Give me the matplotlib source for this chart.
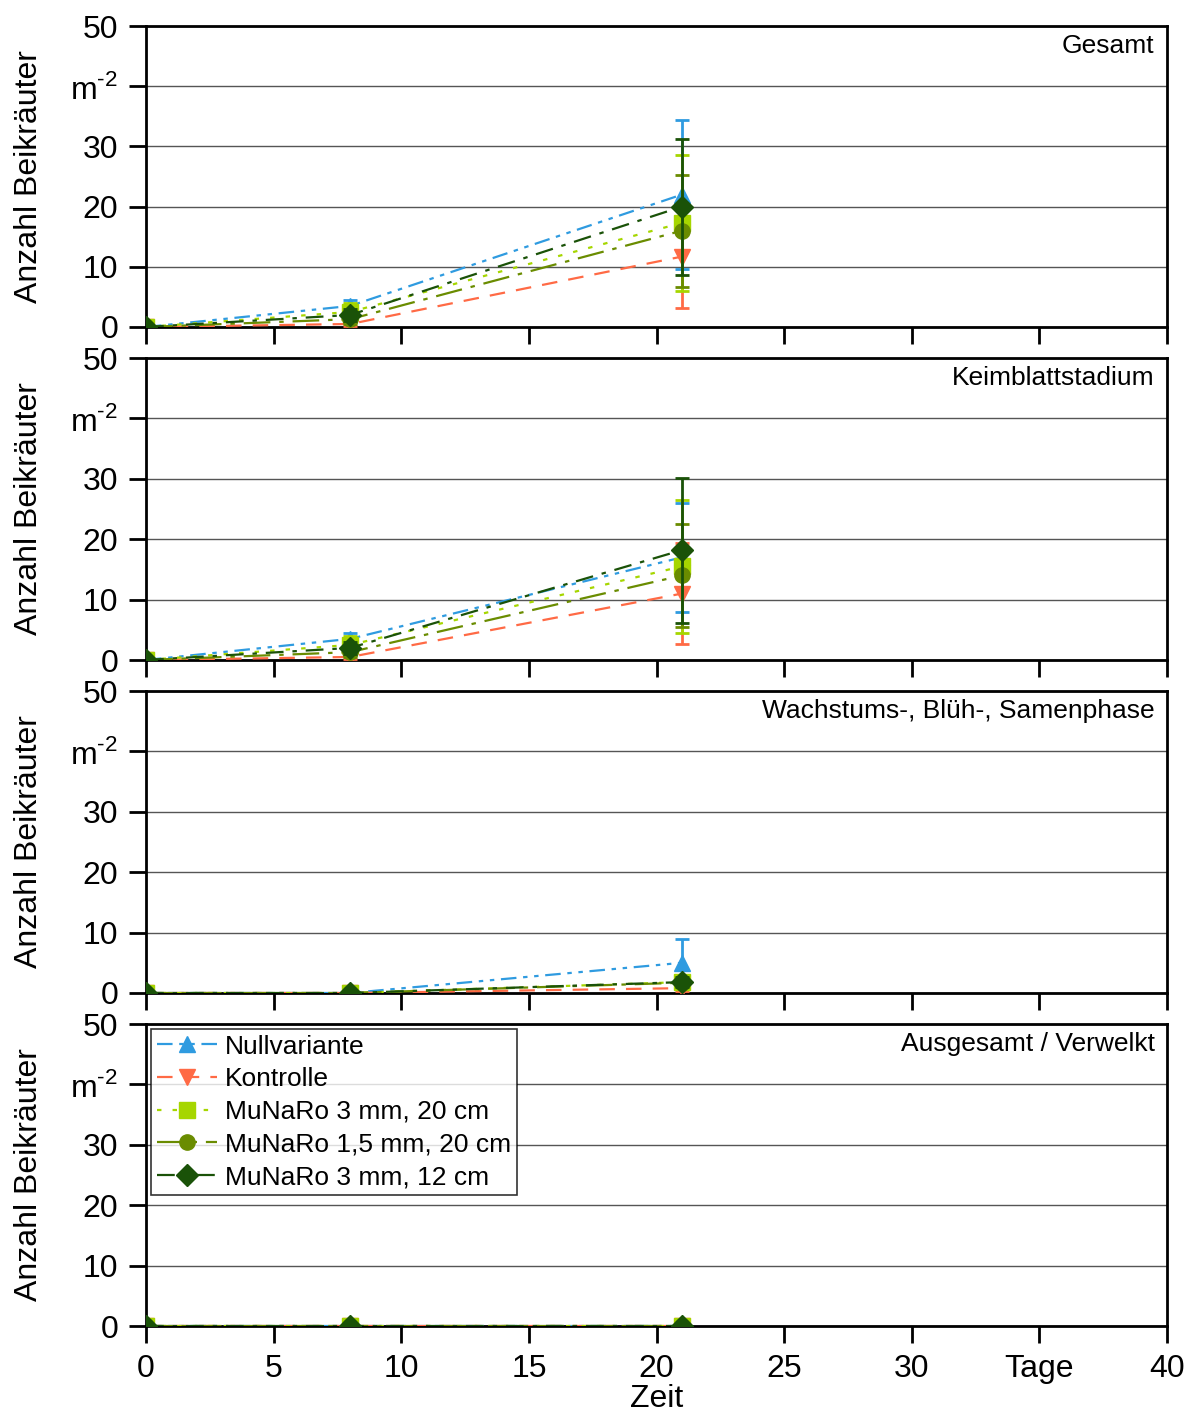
"""Weed counts per m² over time for the MuNaRo variants, four growth-stage panels."""

import matplotlib
matplotlib.use("Agg")
import matplotlib.pyplot as plt
from matplotlib.lines import Line2D
import numpy as np

plt.rcParams["font.family"] = ["Liberation Sans", "DejaVu Sans"]
plt.rcParams["mathtext.fontset"] = "custom"
plt.rcParams["mathtext.rm"] = "Liberation Sans"

DAYS = [0, 8, 21]
PANELS = ["Gesamt", "Keimblattstadium", "Wachstums-, Blüh-, Samenphase", "Ausgesamt / Verwelkt"]
SERIES = ["Nullvariante", "Kontrolle", "MuNaRo 3 mm, 20 cm", "MuNaRo 1,5 mm, 20 cm", "MuNaRo 3 mm, 12 cm"]

# mean values per panel, one row per series
MEANS = [
    [[0, 3.5, 22.0], [0, 0.5, 11.7], [0, 2.5, 17.3], [0, 1.3, 16.0], [0, 2.0, 20.0]],
    [[0, 3.5, 17.0], [0, 0.5, 11.0], [0, 2.5, 15.5], [0, 1.3, 14.0], [0, 2.0, 18.2]],
    [[0, 0.0, 5.0], [0, 0.0, 0.8], [0, 0.0, 1.8], [0, 0.0, 1.7], [0, 0.0, 1.8]],
    [[0, 0, 0], [0, 0, 0], [0, 0, 0], [0, 0, 0], [0, 0, 0]],
]
ERRORS = [
    [[0, 1.0, 12.4], [0, 0.4, 8.6], [0, 1.5, 11.3], [0, 0.8, 9.3], [0, 1.0, 11.3]],
    [[0, 1.0, 9.0], [0, 0.4, 8.4], [0, 1.5, 11.0], [0, 0.8, 8.5], [0, 1.0, 12.0]],
    [[0, 0.0, 4.0], [0, 0.0, 0.5], [0, 0.0, 0.8], [0, 0.0, 0.6], [0, 0.0, 0.8]],
    [[0, 0, 0], [0, 0, 0], [0, 0, 0], [0, 0, 0], [0, 0, 0]],
]
YTICKLABELS = ["0", "10", "20", "30", "m$^{\u2010\\mathregular{2}}$", "50"]
XTICKLABELS = ["0", "5", "10", "15", "20", "25", "30", "Tage", "40"]

COLORS = ["#2f9be0", "#ff6a45", "#a6d600", "#6a8c00", "#1a5208"]
MARKERS = ["^", "v", "s", "o", "D"]
LINESTYLES = [
    (0, (7, 3, 2, 3, 2, 3)),
    (0, (7, 5)),
    (0, (2, 5)),
    (0, (12, 4, 2, 4)),
    (0, (8, 4, 2, 4)),
]

W, H = 1194, 1414
fig = plt.figure(figsize=(W / 100, H / 100), dpi=100)

left, right = 146, 1167
tops = [26, 358, 691, 1024]
bottoms = [327, 660, 993, 1326]

axes = []
for i, title in enumerate(PANELS):
    ax = fig.add_axes([left / W, 1 - bottoms[i] / H, (right - left) / W, (bottoms[i] - tops[i]) / H])
    axes.append(ax)
    for j, name in enumerate(SERIES):
        ax.errorbar(
            DAYS, MEANS[i][j], yerr=ERRORS[i][j], color=COLORS[j], marker=MARKERS[j],
            markersize=11, linestyle=LINESTYLES[j], linewidth=1.6, elinewidth=2,
            capsize=5, capthick=2, label=name, zorder=3 + j,
        )
    ax.set_xlim(0, 40)
    ax.set_ylim(0, 50)
    ax.set_yticks([0, 10, 20, 30, 40, 50])
    ax.set_yticklabels(YTICKLABELS)
    ax.set_xticks(np.arange(0, 41, 5))
    ax.grid(axis="y", color="#555555", linewidth=1)
    ax.set_axisbelow(True)
    for s in ax.spines.values():
        s.set_linewidth(2)
        s.set_color("black")
    ax.tick_params(direction="out", length=12, width=2, labelsize=23, pad=8)
    ax.set_ylabel("Anzahl Beikräuter", fontsize=23, labelpad=19)
    ax.text(0.988, 0.975, title, transform=ax.transAxes, ha="right", va="top", fontsize=19)
    if i < 3:
        ax.tick_params(labelbottom=False)

bottom_ax = axes[-1]
bottom_ax.set_xticklabels(XTICKLABELS)
bottom_ax.set_xlabel("Zeit", fontsize=23, labelpad=0)

handles = [
    Line2D([], [], color=COLORS[j], marker=MARKERS[j], markersize=11,
           linestyle=LINESTYLES[j], linewidth=1.6)
    for j in range(len(SERIES))
]
leg = bottom_ax.legend(
    handles, SERIES, loc="upper left", fontsize=19, frameon=True, fancybox=False,
    edgecolor="black", borderpad=0.2, labelspacing=0.33, handlelength=2.3,
    handletextpad=0.3, borderaxespad=0.2,
)
leg.get_frame().set_linewidth(1.2)

fig.savefig("out.png", dpi=100)
